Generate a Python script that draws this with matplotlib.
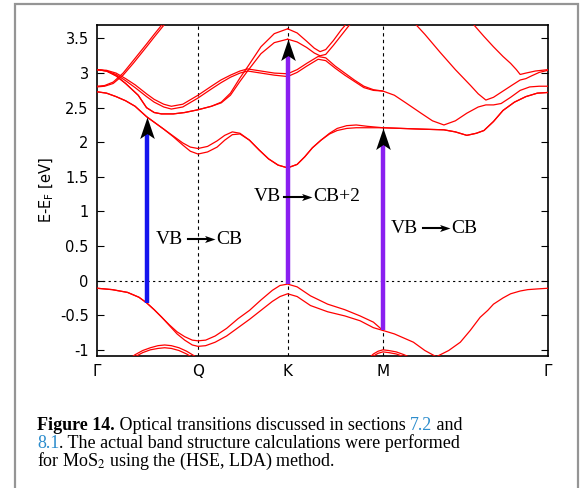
import numpy as np
import matplotlib
matplotlib.use('Agg')
import matplotlib.pyplot as plt
from matplotlib.path import Path
from matplotlib.patches import Rectangle

# k-path: Gamma - Q - K - M - Gamma
k_ticks = [0, 0.53, 1.0, 1.5, 2.366]
k_names = ['Γ', 'Q', 'K', 'M', 'Γ']
y_ticks = [-1, -0.5, 0, 0.5, 1, 1.5, 2, 2.5, 3, 3.5]
y_names = ['-1', '-0.5', '0', '0.5', '1', '1.5', '2', '2.5', '3', '3.5']

# valence band top (split pair between Gamma and M)
vb_k = [0, 0.08, 0.16, 0.22, 0.26, 0.30, 0.34, 0.38, 0.42, 0.46, 0.50, 0.53, 0.57, 0.62, 0.68,
        0.74, 0.80, 0.86, 0.92, 0.96, 1.0, 1.05, 1.12, 1.21, 1.30, 1.38, 1.45, 1.5, 1.56, 1.61,
        1.66, 1.72, 1.78, 1.845, 1.906, 1.958, 2.01, 2.05, 2.08, 2.13, 2.17, 2.22, 2.26, 2.31, 2.366]
vb_hi = [-0.11, -0.13, -0.17, -0.24, -0.32, -0.42, -0.53, -0.64, -0.74, -0.81, -0.86, -0.87, -0.86, -0.80, -0.69,
         -0.55, -0.43, -0.28, -0.14, -0.07, -0.05, -0.09, -0.22, -0.34, -0.42, -0.51, -0.60, -0.72, -0.77, -0.83,
         -0.89, -1.01, -1.10, -1.01, -0.89, -0.72, -0.53, -0.43, -0.34, -0.25, -0.19, -0.15, -0.13, -0.12, -0.11]
vb_lo = [-0.11, -0.13, -0.17, -0.24, -0.32, -0.42, -0.53, -0.65, -0.77, -0.86, -0.93, -0.95, -0.94, -0.89, -0.80,
         -0.68, -0.56, -0.43, -0.30, -0.23, -0.19, -0.23, -0.36, -0.45, -0.51, -0.58, -0.68, -0.72]

# lower valence bands peeking in at the bottom
vb2_k = [0.17, 0.20, 0.24, 0.28, 0.32, 0.355, 0.39, 0.43, 0.47, 0.50, 0.53]
vb2_hi = [-1.13, -1.07, -1.01, -0.97, -0.94, -0.93, -0.94, -0.97, -1.02, -1.07, -1.12]
vb2_lo = [-1.16, -1.10, -1.04, -1.00, -0.98, -0.97, -0.98, -1.01, -1.06, -1.11, -1.16]
vb3_k = [1.42, 1.45, 1.475, 1.5, 1.53, 1.57, 1.61, 1.65]
vb3_hi = [-1.14, -1.06, -1.02, -1.00, -1.01, -1.03, -1.07, -1.12]
vb3_lo = [-1.17, -1.09, -1.05, -1.03, -1.04, -1.06, -1.10, -1.15]

# lowest conduction band
cb1_k = [0, 0.05, 0.10, 0.15, 0.20, 0.26, 0.30, 0.35, 0.40, 0.45, 0.49, 0.53, 0.58, 0.63, 0.67,
         0.71, 0.75, 0.80, 0.85, 0.90, 0.95, 1.0, 1.05, 1.09, 1.13, 1.175, 1.22, 1.26, 1.31, 1.36,
         1.42, 1.5, 1.6, 1.7, 1.82, 1.88, 1.94, 1.99, 2.03, 2.08, 2.13, 2.19, 2.25, 2.31, 2.366]
cb1_hi = [2.73, 2.71, 2.66, 2.60, 2.52, 2.37, 2.29, 2.19, 2.09, 1.99, 1.93, 1.91, 1.94, 2.02, 2.10,
          2.15, 2.13, 2.03, 1.89, 1.76, 1.67, 1.63, 1.68, 1.79, 1.92, 2.03, 2.13, 2.20, 2.24, 2.25,
          2.23, 2.21, 2.20, 2.19, 2.18, 2.15, 2.10, 2.13, 2.17, 2.30, 2.46, 2.58, 2.66, 2.71, 2.72]
cb1_lo = [2.73, 2.71, 2.66, 2.60, 2.52, 2.37, 2.29, 2.19, 2.08, 1.96, 1.87, 1.83, 1.86, 1.93, 2.03,
          2.11, 2.12, 2.03, 1.89, 1.76, 1.67, 1.63, 1.68, 1.79, 1.92, 2.03, 2.12, 2.17, 2.20, 2.21,
          2.21, 2.21, 2.20, 2.19, 2.18, 2.15, 2.10, 2.13, 2.17, 2.30, 2.46, 2.58, 2.66, 2.71, 2.72]

# steep band leaving Gamma upwards
cbb_k = [0, 0.04, 0.085, 0.137, 0.19, 0.26, 0.30, 0.347, 0.37]
cbb_hi = [2.81, 2.82, 2.87, 3.00, 3.18, 3.42, 3.56, 3.72, 3.80]
cbb_lo = [2.80, 2.81, 2.85, 2.97, 3.14, 3.38, 3.52, 3.68, 3.76]

# band going to the K peak
cbc_k = [0, 0.05, 0.10, 0.15, 0.216, 0.26, 0.30, 0.338, 0.40, 0.46, 0.53, 0.60, 0.652, 0.70, 0.75,
         0.79, 0.86, 0.93, 1.0]
cbc_hi = [3.05, 3.03, 2.96, 2.85, 2.68, 2.50, 2.43, 2.41, 2.41, 2.43, 2.47, 2.52, 2.58, 2.71, 2.93,
          3.09, 3.38, 3.57, 3.64]
cbc_lo = [3.05, 3.03, 2.96, 2.85, 2.68, 2.50, 2.43, 2.41, 2.41, 2.43, 2.47, 2.52, 2.57, 2.68, 2.88,
          3.03, 3.28, 3.44, 3.49]

# band with minimum between Gamma and Q
cbd_k = [0, 0.05, 0.10, 0.15, 0.20, 0.26, 0.30, 0.35, 0.39, 0.45, 0.53, 0.60, 0.65, 0.70, 0.75,
         0.79, 0.86, 0.93, 1.0, 1.05, 1.10, 1.16, 1.20, 1.25, 1.30, 1.35, 1.40, 1.45, 1.5, 1.56,
         1.62, 1.70, 1.76, 1.82, 1.88, 1.94, 2.0, 2.04, 2.08, 2.12, 2.17, 2.22, 2.27, 2.32, 2.366]
cbd_hi = [3.05, 3.04, 3.00, 2.92, 2.83, 2.70, 2.62, 2.55, 2.52, 2.55, 2.68, 2.81, 2.90, 2.97, 3.03,
          3.06, 3.03, 3.00, 2.99, 3.05, 3.14, 3.24, 3.22, 3.10, 3.00, 2.90, 2.81, 2.76, 2.74, 2.68,
          2.57, 2.42, 2.31, 2.25, 2.31, 2.42, 2.51, 2.54, 2.54, 2.56, 2.65, 2.75, 2.80, 2.81, 2.81]
cbd_lo = [3.05, 3.03, 2.98, 2.89, 2.79, 2.66, 2.58, 2.51, 2.48, 2.51, 2.64, 2.77, 2.86, 2.94, 3.00,
          3.03, 3.00, 2.97, 2.95, 3.01, 3.10, 3.20, 3.18, 3.07, 2.97, 2.88, 2.79, 2.75, 2.74]

# K peak band continuing towards M
cbe_k = [1.0, 1.05, 1.10, 1.14, 1.17, 1.20, 1.24, 1.28, 1.32, 1.34]
cbe_hi = [3.64, 3.58, 3.46, 3.36, 3.31, 3.34, 3.47, 3.62, 3.75, 3.80]
cbe_lo = [3.49, 3.45, 3.37, 3.29, 3.25, 3.27, 3.40, 3.54, 3.68, 3.74]

# two high bands coming down into Gamma from M
cbf_k = [1.64, 1.68, 1.72, 1.80, 1.88, 1.96, 2.00, 2.04, 2.08, 2.13, 2.18, 2.22, 2.25, 2.28, 2.32, 2.366]
cbf = [3.80, 3.68, 3.56, 3.30, 3.05, 2.82, 2.70, 2.61, 2.65, 2.74, 2.83, 2.90, 2.92, 2.96, 3.01, 3.04]
cbg_k = [1.95, 1.976, 2.03, 2.08, 2.13, 2.17, 2.20, 2.22, 2.25, 2.30, 2.366]
cbg = [3.77, 3.70, 3.53, 3.38, 3.24, 3.14, 3.05, 2.98, 3.00, 3.03, 3.05]

# optical transitions
tr_k = [0.26, 1.0, 1.5]
tr_from = [-0.33, -0.05, -0.72]
tr_to = [2.36, 3.49, 2.21]
tr_color = ['#1414ee', '#8a1ff0', '#8a1ff0']
tr_text = [('VB', 'CB'), ('VB', 'CB+2'), ('VB', 'CB')]

fig = plt.figure(figsize=(5.84, 4.88), dpi=100)
ax = fig.add_axes([97/584, 1 - 355.7/488, 451/584, 330.7/488])

red = '#ff0000'
lw = 0.9
pairs = [(vb_k, vb_hi), (vb_k[:len(vb_lo)], vb_lo), (vb2_k, vb2_hi), (vb2_k, vb2_lo),
         (vb3_k, vb3_hi), (vb3_k, vb3_lo), (cb1_k, cb1_hi), (cb1_k, cb1_lo),
         (cbb_k, cbb_hi), (cbb_k, cbb_lo), (cbc_k, cbc_hi), (cbc_k, cbc_lo),
         (cbd_k, cbd_hi), (cbd_k[:len(cbd_lo)], cbd_lo), (cbe_k, cbe_hi), (cbe_k, cbe_lo),
         (cbf_k, cbf), (cbg_k, cbg)]
for kk, ee in pairs:
    ax.plot(kk, ee, color=red, lw=lw, zorder=3)

for x in k_ticks[1:-1]:
    ax.axvline(x, color='black', lw=0.8, ls=(0, (3, 3)), zorder=1)
ax.axhline(0, color='black', lw=0.8, ls=(0, (2, 3)), zorder=1)

# arrow head marker, tip at the data point
head_up = Path([(0, 0), (-0.34, -1), (0, -0.77), (0.34, -1), (0, 0)],
               [Path.MOVETO, Path.LINETO, Path.LINETO, Path.LINETO, Path.CLOSEPOLY])
head_right = Path([(0, 0), (-1, 0.34), (-0.77, 0), (-1, -0.34), (0, 0)],
                  [Path.MOVETO, Path.LINETO, Path.LINETO, Path.LINETO, Path.CLOSEPOLY])

for k, e0, e1, c in zip(tr_k, tr_from, tr_to, tr_color):
    ax.plot([k, k], [e0, e1 - 0.2], color=c, lw=3.2, solid_capstyle='butt', zorder=4)
    ax.plot(k, e1, marker=head_up, ms=31, color='black', mew=0, zorder=5)

# transition labels: (x of VB, arrow start, arrow end, x of CB, y)
lab_pos = [(0.31, 0.477, 0.619, 0.628, 0.60),
           (0.82, 0.983, 1.126, 1.135, 1.21),
           (1.542, 1.709, 1.852, 1.861, 0.76)]
serif = 'Liberation Serif'
for (a, b), (x0, xa, xb, x1, y) in zip(tr_text, lab_pos):
    ax.text(x0, y, a, family=serif, fontsize=14, ha='left', va='center', zorder=6)
    ax.text(x1, y, b, family=serif, fontsize=14, ha='left', va='center', zorder=6)
    ax.plot([xa, xb - 0.04], [y, y], color='black', lw=1.5, zorder=6)
    ax.plot(xb, y, marker=head_right, ms=15, color='black', mew=0, zorder=6)

ax.set_xlim(0, 2.366)
ax.set_ylim(-1.085, 3.695)
ax.set_xticks(k_ticks)
ax.set_xticklabels(k_names, fontsize=11)
ax.set_yticks(y_ticks)
ax.set_yticklabels(y_names, fontsize=10.5)
ax.tick_params(axis='x', length=0, pad=6)
ax.tick_params(axis='y', direction='in', right=True, length=5, width=0.8, pad=6)
for s in ax.spines.values():
    s.set_linewidth(1.2)
ax.set_ylabel('E-E$_\\mathregular{F}$ [eV]', fontsize=10.5)
ax.yaxis.set_label_coords(-0.09, 0.5)

# caption
fig.add_artist(Rectangle((15/584, -0.1), 563/584, 1.1 - 4/488, transform=fig.transFigure,
                         fill=False, edgecolor='#959595', lw=1.6))
plt.rcParams['mathtext.fontset'] = 'stix'
link = '#2b8ccc'
cap_lines = [
    [('Figure 14.', 'bold', 'black'), (' Optical transitions discussed in sections ', 'normal', 'black'),
     ('7.2', 'normal', link), (' and', 'normal', 'black')],
    [('8.1', 'normal', link), ('. The actual band structure calculations were performed', 'normal', 'black')],
    [('for MoS$_2$ using the (HSE, LDA) method.', 'normal', 'black')],
]
cap_base = [429.5, 447.5, 465.5]
r = fig.canvas.get_renderer()
for pieces, yb in zip(cap_lines, cap_base):
    x = 37.0 / 584
    for s, w, c in pieces:
        t = fig.text(x, 1 - yb/488, s, family=serif, fontsize=13, weight=w, color=c,
                     ha='left', va='baseline')
        x += t.get_window_extent(renderer=r).width / fig.bbox.width

fig.savefig('out.png', dpi=100)
